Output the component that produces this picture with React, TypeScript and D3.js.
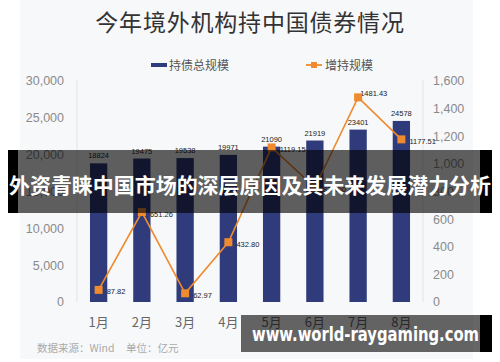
import React from "react";
import * as d3 from "d3";

const months = ["1月", "2月", "3月", "4月", "5月", "6月", "7月", "8月"];
const holdings = [18824, 19475, 19538, 19971, 21090, 21919, 23401, 24578];
const increases = [87.82, 651.26, 62.97, 432.8, 1119.15, 829.0, 1481.43, 1177.51];
const leftTicks = [0, 5000, 10000, 15000, 20000, 25000, 30000];
const rightTicks = [0, 200, 400, 600, 800, 1000, 1200, 1400, 1600];
const title = "今年境外机构持中国债券情况";
const legendLabels = ["持债总规模", "增持规模"];
const sourceNote = ["数据来源：Wind", "单位：亿元"];
const bannerText = "外资青睐中国市场的深层原因及其未来发展潜力分析";
const watermark = "www.world-raygaming.com";

const W = 500;
const H = 362;
const BAR = "#2f3b7a";
const ORANGE = "#f08a2e";
const NUM_FONT = "'Liberation Sans', Arial, 'Noto Sans CJK SC', sans-serif";
const CJK_FONT = "'Noto Sans CJK SC', 'Noto Sans', sans-serif";

export default function App() {
  const x = d3.scaleBand<string>().domain(months).range([77, 423]).paddingInner(0.6).paddingOuter(0.3);
  const yL = d3.scaleLinear().domain([0, 30000]).range([302, 81]);
  const yR = d3.scaleLinear().domain([0, 1600]).range([302, 81]);
  const fmt = d3.format(",");
  const cx = (m: string) => (x(m) as number) + x.bandwidth() / 2;
  const line = d3
    .line<number>()
    .x((_, i) => cx(months[i]))
    .y((d) => yR(d));
  const maxInc = d3.max(increases) as number;

  return (
    <div style={{ position: "absolute", left: 0, top: 0 }}>
      <svg width={W} height={H} style={{ display: "block" }}>
        <rect x={0} y={0} width={W} height={H} fill="#ffffff" />
        <rect x={20} y={0} width={453} height={359} fill="#f7f8fa" />
        <text x={250} y={31} textAnchor="middle" fontSize={23} fill="#333" fontFamily={CJK_FONT} letterSpacing={0.8}>
          {title}
        </text>
        {/* legend */}
        <rect x={151} y={63} width={16} height={4} fill={BAR} />
        <text x={169} y={69.5} fontSize={12} fill="#555" fontFamily={CJK_FONT}>
          {legendLabels[0]}
        </text>
        <line x1={306} x2={322} y1={65} y2={65} stroke={ORANGE} strokeWidth={1.8} />
        <rect x={311} y={62} width={6} height={6} fill={ORANGE} />
        <text x={325} y={69.5} fontSize={12} fill="#555" fontFamily={CJK_FONT}>
          {legendLabels[1]}
        </text>
        {/* axes lines */}
        <line x1={77} x2={77} y1={80} y2={302} stroke="#e2e3e6" strokeWidth={1} />
        <line x1={423} x2={423} y1={80} y2={302} stroke="#e2e3e6" strokeWidth={1} />
        {leftTicks.map((t) => (
          <text key={"l" + t} x={64} y={yL(t)} dy="0.35em" textAnchor="end" fontSize={12.5} fill="#8a8a8a" fontFamily={NUM_FONT}>
            {fmt(t)}
          </text>
        ))}
        {rightTicks.map((t) => (
          <text key={"r" + t} x={433} y={yR(t)} dy="0.35em" textAnchor="start" fontSize={12.5} fill="#8a8a8a" fontFamily={NUM_FONT}>
            {fmt(t)}
          </text>
        ))}
        {/* bars */}
        {holdings.map((v, i) => (
          <rect key={"b" + i} x={x(months[i])} y={yL(v)} width={x.bandwidth()} height={yL(0) - yL(v)} fill={BAR} />
        ))}
        {holdings.map((v, i) => (
          <text key={"bl" + i} x={cx(months[i])} y={yL(v) - 5} textAnchor="middle" fontSize={7.5} fill="#222" fontFamily={NUM_FONT}>
            {v}
          </text>
        ))}
        {/* line */}
        <path d={line(increases) as string} fill="none" stroke={ORANGE} strokeWidth={1.6} />
        {increases.map((v, i) => {
          const top = v === maxInc;
          return (
            <text
              key={"ml" + i}
              x={cx(months[i]) + (top ? 2 : 8)}
              y={yR(v) + (top ? -4 : 2)}
              dy="0.35em"
              fontSize={7.5}
              fill="#222"
              fontFamily={NUM_FONT}
            >
              {d3.format(".2f")(v)}
            </text>
          );
        })}
        {increases.map((v, i) => (
          <rect key={"m" + i} x={cx(months[i]) - 4} y={yR(v) - 4} width={8} height={8} fill={ORANGE} />
        ))}
        {/* x labels */}
        {months.map((m) => (
          <text key={"x" + m} x={cx(m)} y={327} textAnchor="middle" fontSize={13} fill="#666" fontFamily={CJK_FONT}>
            {m}
          </text>
        ))}
        <text x={37} y={352} fontSize={10.5} fill="#aaa" fontFamily={CJK_FONT}>
          {sourceNote[0]}
        </text>
        <text x={126} y={352} fontSize={10.5} fill="#aaa" fontFamily={CJK_FONT}>
          {sourceNote[1]}
        </text>
        {/* banner overlay */}
        <rect x={18} y={150} width={462} height={63} fill="rgba(0,0,0,0.62)" />
        <rect x={8} y={150} width={10} height={63} fill="#000" />
        <rect x={480} y={150} width={12} height={63} fill="#000" />
        <text
          x={9}
          y={186}
          dy="0.35em"
          fontSize={21}
          fontWeight="bold"
          fill="#fff"
          fontFamily={CJK_FONT}
          textLength={482}
          lengthAdjust="spacingAndGlyphs"
        >
          {bannerText}
        </text>
        {/* watermark */}
        <rect x={241} y={315} width={239} height={37} fill="rgba(0,0,0,0.6)" />
        <rect x={480} y={315} width={12} height={37} fill="#000" />
        <text
          x={252}
          y={334}
          dy="0.35em"
          fontSize={19}
          fontWeight="bold"
          fill="#fff"
          fontFamily="'DejaVu Sans', 'Open Sans', sans-serif"
          textLength={227}
          lengthAdjust="spacingAndGlyphs"
        >
          {watermark}
        </text>
      </svg>
    </div>
  );
}
